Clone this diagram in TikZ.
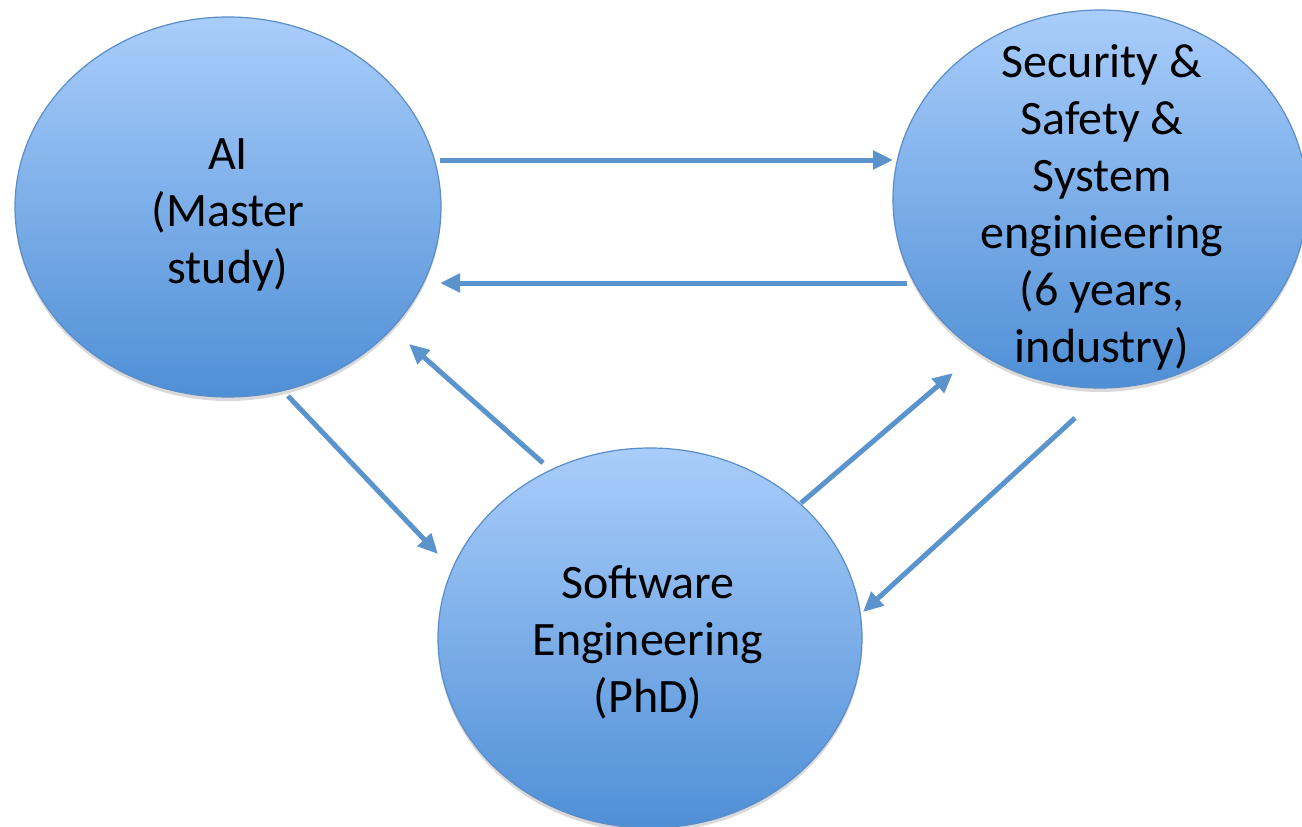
\documentclass[tikz,border=0pt]{standalone}
\usepackage{fontspec}
\setmainfont{Carlito}
\usetikzlibrary{arrows.meta,shadows,calc,shapes.geometric}
\definecolor{topblue}{HTML}{A9CDFB}
\definecolor{botblue}{HTML}{4F8FD6}
\definecolor{edgeblue}{HTML}{5A8DC8}
\definecolor{arrowblue}{HTML}{5B93CD}
\tikzset{
  bubble/.style={ellipse, draw=edgeblue, line width=1.2pt, top color=topblue, bottom color=botblue,
    inner sep=0pt,
    drop shadow={shadow xshift=0pt, shadow yshift=-4pt, opacity=0.15, fill=black}},
  bubbletext/.style={align=center, inner sep=0pt, font=\fontsize{48}{57}\selectfont},
  arr/.style={draw=arrowblue, line width=5pt, -{Triangle[length=20pt,width=18pt]}}
}
\begin{document}
\begin{tikzpicture}[x=1pt,y=-1pt]
\useasboundingbox (0,0) rectangle (1302,827);
\clip (0,0) rectangle (1302,827);
\fill[white] (0,0) rectangle (1302,827);
\node[bubble, minimum width=426pt, minimum height=380pt] (ai) at (228,207) {};
\node[bubble, minimum width=414pt, minimum height=378pt] (sec) at (1100,199) {};
\node[bubble, minimum width=424pt, minimum height=380pt] (se) at (650,638) {};
\node[bubbletext] (aitext) at ([shift={(0,8)}]ai.center) {AI\\(Master\\study)};
\node[bubbletext] (sectext) at ([shift={(2,8)}]sec.center) {Security \&\\Safety \&\\System\\enginieering\\(6 years,\\industry)};
\node[bubbletext] (setext) at ([shift={(-2,4)}]se.center) {Software\\Engineering\\(PhD)};
% AI -> Security
\draw[arr] ([shift={(212,-47)}]ai.center) -- ([shift={(-207,-39)}]sec.center);
% Security -> AI
\draw[arr] ([shift={(-193,84)}]sec.center) -- ([shift={(212,76)}]ai.center);
% SE -> AI
\draw[arr] ([shift={(-107,-175)}]se.center) -- ([shift={(181,137)}]ai.center);
% AI -> SE
\draw[arr] ([shift={(60,189)}]ai.center) -- ([shift={(-212,-84)}]se.center);
% SE -> Security
\draw[arr] ([shift={(151,-135)}]se.center) -- ([shift={(-147,174)}]sec.center);
% Security -> SE
\draw[arr] ([shift={(-25,219)}]sec.center) -- ([shift={(213,-26)}]se.center);
\end{tikzpicture}
\end{document}
